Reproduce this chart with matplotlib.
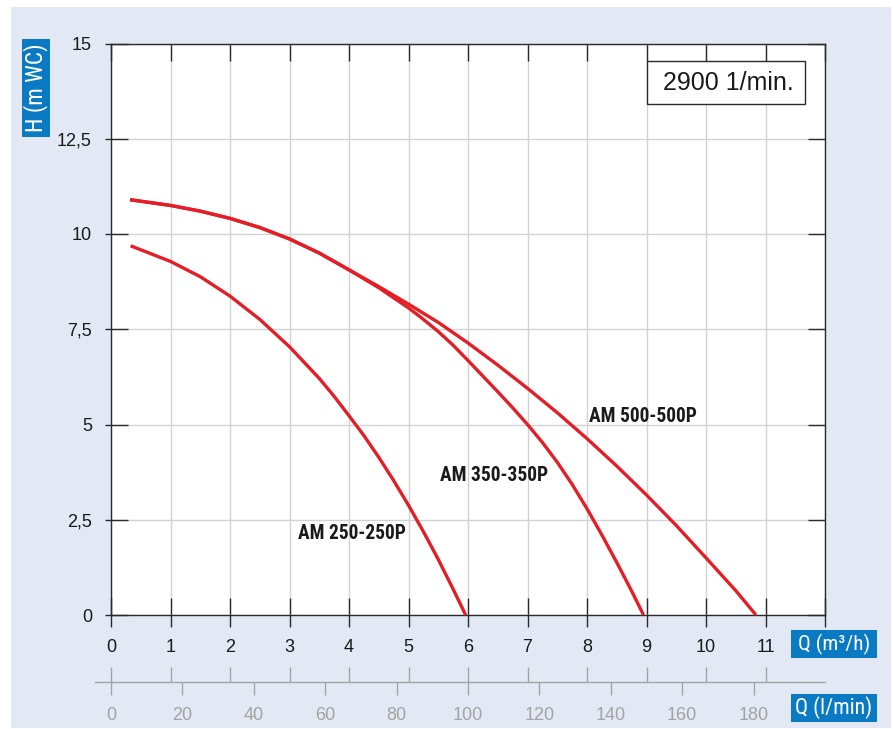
import matplotlib
matplotlib.use("Agg")
import matplotlib.pyplot as plt
from matplotlib.patches import Rectangle
from matplotlib.ticker import FixedLocator
from matplotlib import font_manager as fm

# ---------------- data ----------------
q_250 = [0.33, 1.0, 1.5, 2.0, 2.5, 3.0, 3.5, 3.75, 4.0, 4.25, 4.5, 4.75, 5.0, 5.25, 5.5, 5.75, 5.96]
h_250 = [9.69, 9.28, 8.88, 8.37, 7.76, 7.04, 6.21, 5.74, 5.23, 4.71, 4.14, 3.53, 2.88, 2.19, 1.46, 0.68, 0.0]

q_350 = [0.32, 1.0, 1.5, 2.0, 2.5, 3.0, 3.5, 4.0, 4.5, 5.0, 5.25, 5.5, 5.75, 6.0, 6.25, 6.5, 6.75, 7.0,
         7.25, 7.5, 7.75, 8.0, 8.25, 8.5, 8.75, 8.95]
h_350 = [10.90, 10.75, 10.60, 10.41, 10.17, 9.87, 9.50, 9.06, 8.59, 8.06, 7.76, 7.44, 7.08, 6.68, 6.27, 5.86, 5.44, 5.00,
         4.53, 4.01, 3.43, 2.79, 2.10, 1.38, 0.63, 0.0]

q_500 = [0.32, 1.0, 1.5, 2.0, 2.5, 3.0, 3.5, 4.0, 4.5, 5.0, 5.5, 6.0, 6.5, 7.0, 7.5, 8.0, 8.5, 9.0, 9.5, 10.0, 10.5, 10.84]
h_500 = [10.90, 10.75, 10.60, 10.41, 10.17, 9.87, 9.50, 9.06, 8.62, 8.16, 7.68, 7.14, 6.56, 5.95, 5.31, 4.63, 3.91, 3.15, 2.35, 1.50, 0.64, 0.0]

series_names = ["AM 250-250P", "AM 350-350P", "AM 500-500P"]
label_pos = [(3.15, 2.13), (5.53, 3.67), (8.04, 5.20)]

x_ticks = list(range(0, 13))
x_ticklabels = [str(v) for v in range(0, 12)] + [""]
y_ticks = [0, 2.5, 5, 7.5, 10, 12.5, 15]
y_ticklabels = ["0", "2,5", "5", "7,5", "10", "12,5", "15"]
lpm_ticks = [0, 20, 40, 60, 80, 100, 120, 140, 160, 180]
speed_text = "2900 1/min."
ylabel_text = "H (m WC)"
xlabel_text = "Q (m³/h)"
x2label_text = "Q (l/min)"

# ---------------- style ----------------
W, H = 893, 729
BG = "#e3e9f4"
BLUE = "#0a7bc2"
RED = "#e41e26"
GRID = "#d2d2d2"
DARK = "#2a2a2a"
GRAY = "#a3a3a3"
REG = ["Liberation Sans", "DejaVu Sans"]
PT = 72.0 / 100.0  # points per pixel at dpi=100


def find_condensed(bold):
    prefs = ["liberation sans narrow", "roboto condensed", "noto sans condensed",
             "noto sans semicondensed", "dejavu sans condensed", "open sans condensed",
             "arial narrow", "condensed", "narrow"]
    best, best_rank = None, 999
    for f in fm.fontManager.ttflist:
        key = (f.name + " " + f.fname.split("/")[-1]).lower().replace("-", " ")
        if "mono" in key or "serif" in key and "sans" not in key:
            continue
        if "italic" in key or "oblique" in key:
            continue
        w = f.weight if isinstance(f.weight, int) else (700 if "bold" in str(f.weight) else 400)
        if bold and w < 600:
            continue
        if not bold and (w >= 600 or w < 350):
            continue
        if bold and ("extrabold" in key or "black" in key or "semibold" in key):
            continue
        if not bold and ("light" in key or "thin" in key or "medium" in key):
            continue
        if "extracondensed" in key or "extra condensed" in key or "ultracondensed" in key:
            continue
        for i, p in enumerate(prefs):
            fn = f.fname.lower().replace("-", " ").replace("_", " ")
            if p in key or p.replace(" ", "") in fn.replace(" ", ""):
                if i < best_rank:
                    best, best_rank = f.fname, i
                break
    return best


cond_bold = find_condensed(True)
cond_reg = find_condensed(False)


def fprops(size, bold):
    path = cond_bold if bold else cond_reg
    if path:
        return fm.FontProperties(fname=path, size=size)
    return fm.FontProperties(family=REG, size=size, weight="bold" if bold else "normal")


def fx(px):
    return px / W


def fy(py):
    return 1 - py / H


fig = plt.figure(figsize=(W / 100, H / 100), dpi=100)
fig.patch.set_facecolor("white")
fig.add_artist(Rectangle((fx(11), fy(728)), fx(891) - fx(11), fy(7) - fy(728),
                         transform=fig.transFigure, facecolor=BG, edgecolor="none", zorder=-10))
renderer = fig.canvas.get_renderer()


def fit(t, target_px, vertical=False):
    bb = t.get_window_extent(renderer)
    cur = bb.height if vertical else bb.width
    if cur > 0:
        t.set_fontsize(t.get_fontsize() * target_px / cur)


L, R, T, B = 111, 825, 43.5, 615
ax = fig.add_axes([fx(L), fy(B), fx(R) - fx(L), fy(T) - fy(B)])
ax.set_facecolor("white")
ax.set_xlim(0, 12)
ax.set_ylim(0, 15)

for s in ax.spines.values():
    s.set_color(DARK)
    s.set_linewidth(1.0)

ax.xaxis.set_major_locator(FixedLocator(x_ticks))
ax.set_xticklabels(x_ticklabels)
ax.yaxis.set_major_locator(FixedLocator(y_ticks))
ax.set_yticklabels(y_ticklabels)
ax.xaxis.set_minor_locator(FixedLocator(x_ticks))
ax.yaxis.set_minor_locator(FixedLocator(y_ticks))
ax.xaxis.remove_overlapping_locs = False
ax.yaxis.remove_overlapping_locs = False

ax.tick_params(axis="both", which="major", direction="in", length=17 * PT, width=1.0,
               color=DARK, top=True, right=True, labelcolor="#1a1a1a", labelsize=13)
ax.tick_params(axis="x", which="major", pad=24 * PT)
ax.tick_params(axis="y", which="major", pad=19 * PT)
ax.tick_params(axis="x", which="minor", direction="out", length=12 * PT, width=1.0,
               color=DARK, top=False, bottom=True)
ax.tick_params(axis="y", which="minor", direction="out", length=6 * PT, width=1.0,
               color=DARK, left=True, right=False)
for lab in ax.get_xticklabels() + ax.get_yticklabels():
    lab.set_family(REG)

ax.grid(True, which="major", color=GRID, linewidth=1.0, zorder=0)
ax.set_axisbelow(True)

for q, h in [(q_250, h_250), (q_350, h_350), (q_500, h_500)]:
    ax.plot(q, h, color=RED, linewidth=2.4, solid_capstyle="butt",
            solid_joinstyle="round", zorder=3, clip_on=False)

for name, (lx, ly) in zip(series_names, label_pos):
    t = ax.text(lx, ly, name, ha="left", va="center", fontproperties=fprops(15, True),
                color="#1a1a1a", zorder=4)
    fit(t, 109)

# secondary l/min axis
L2 = 95
xmin2 = (L2 - L) / ((R - L) / 12.0)
ax2 = fig.add_axes([fx(L2), fy(681.7), fx(R) - fx(L2), fy(670) - fy(681.7)])
ax2.set_facecolor("none")
ax2.set_xlim(xmin2, 12)
ax2.set_ylim(0, 1)
for k in ["top", "left", "right"]:
    ax2.spines[k].set_visible(False)
ax2.spines["bottom"].set_color(GRAY)
ax2.spines["bottom"].set_linewidth(1.0)
ax2.set_yticks([])
ax2.xaxis.set_major_locator(FixedLocator([v * 0.06 for v in lpm_ticks]))
ax2.set_xticklabels([str(v) for v in lpm_ticks])
ax2.xaxis.set_minor_locator(FixedLocator(list(range(0, 12))))
ax2.xaxis.remove_overlapping_locs = False
ax2.tick_params(axis="x", which="major", direction="out", length=13 * PT, width=1.0,
                color=GRAY, labelcolor=GRAY, labelsize=13, pad=8.5)
ax2.tick_params(axis="x", which="minor", direction="in", length=15 * PT, width=1.0, color=GRAY)
for lab in ax2.get_xticklabels():
    lab.set_family(REG)

# speed box
fig.add_artist(Rectangle((fx(646.7), fy(104)), fx(805) - fx(646.7), fy(60.7) - fy(104),
                         transform=fig.transFigure, facecolor="white", edgecolor=DARK,
                         linewidth=1.0, zorder=5))
ts = fig.text(fx(728), fy(83), speed_text, ha="center", va="center", fontsize=18,
              family=REG, color="#1a1a1a", zorder=6)
fit(ts, 131)


# blue label boxes
def blue_box(x0, y0, x1, y1, text, target, rot=0):
    fig.add_artist(Rectangle((fx(x0), fy(y1)), fx(x1) - fx(x0), fy(y0) - fy(y1),
                             transform=fig.transFigure, facecolor=BLUE, edgecolor="none", zorder=5))
    t = fig.text(fx((x0 + x1) / 2), fy((y0 + y1) / 2), text, ha="center", va="center",
                 rotation=rot, fontproperties=fprops(16.5, False), color="white", zorder=6)
    fit(t, target, vertical=(rot == 90))


blue_box(22, 39, 50, 137, ylabel_text, 88, rot=90)
blue_box(791, 630, 877, 658, xlabel_text, 72)
blue_box(791, 694, 877, 722, x2label_text, 77)

fig.savefig("out.png", dpi=100, facecolor=fig.get_facecolor())
